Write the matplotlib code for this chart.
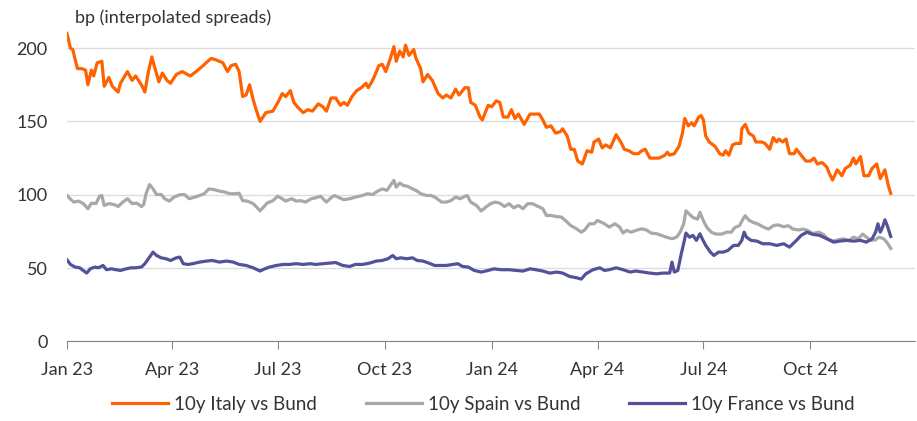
import numpy as np
import pandas as pd
import matplotlib
matplotlib.use('Agg')
import matplotlib.pyplot as plt

plt.rcParams['font.family'] = ['Lato', 'DejaVu Sans']

# days after 1 Jan 2023, spread in bp
italy_days = [0, 3, 5, 9, 13, 16, 18, 21, 23, 26, 30, 32, 36, 39, 44, 46, 52, 56, 59, 64, 67, 70, 73, 75, 79,
              82, 86, 89, 94, 99, 106, 111, 117, 121, 124, 128, 134, 138, 141, 145, 148, 151, 154, 157, 160,
              163, 166, 171, 177, 182, 185, 188, 192, 195, 198, 203, 207, 211, 216, 220, 223, 227, 231, 235,
              238, 241, 245, 249, 253, 257, 259, 262, 265, 268, 271, 274, 278, 281, 283, 286, 289, 291, 294,
              298, 300, 304, 306, 310, 314, 319, 323, 326, 330, 334, 337, 342, 345, 347, 351, 355, 357, 362,
              365, 369, 372, 375, 379, 382, 385, 388, 393, 398, 402, 406, 409, 412, 416, 420, 424, 426, 430,
              433, 436, 439, 443, 447, 451, 453, 457, 460, 463, 467, 472, 476, 479, 483, 487, 491, 494, 497,
              501, 505, 509, 514, 516, 518, 522, 526, 529, 531, 534, 537, 539, 543, 545, 547, 549, 552, 557,
              561, 564, 566, 569, 572, 575, 579, 580, 583, 586, 590, 592, 597, 600, 604, 607, 610, 612, 615,
              618, 621, 625, 627, 631, 635, 639, 642, 645, 649, 653, 655, 658, 662, 666, 669, 673, 676, 678,
              682, 685, 689, 692, 696, 699, 703, 706, 708]
italy_bp = [210, 200, 199, 186, 186, 185, 175, 185, 181, 190, 191, 174, 180, 174, 170, 176, 184, 178, 181, 175,
            170, 184, 194, 188, 177, 183, 178, 176, 182, 184, 181, 184, 188, 191, 193, 192, 190, 184, 188, 189,
            184, 167, 168, 175, 165, 157, 150, 156, 157, 164, 169, 167, 171, 163, 160, 156, 158, 157, 162, 160,
            157, 166, 166, 161, 163, 161, 167, 171, 173, 176, 173, 177, 182, 188, 189, 184, 193, 201, 191, 198,
            194, 202, 195, 199, 193, 186, 177, 182, 178, 169, 166, 168, 166, 172, 168, 173, 173, 163, 161, 153,
            151, 161, 160, 164, 163, 153, 153, 158, 152, 155, 148, 155, 155, 155, 151, 146, 147, 142, 143, 145,
            140, 131, 131, 123, 121, 130, 129, 136, 138, 132, 134, 132, 141, 136, 131, 130, 128, 128, 130, 131,
            125, 125, 125, 127, 129, 127, 128, 133, 142, 152, 147, 149, 147, 153, 154, 151, 140, 136, 133, 128,
            127, 130, 127, 134, 135, 135, 145, 148, 142, 140, 136, 136, 135, 131, 139, 136, 138, 136, 138, 128,
            128, 131, 127, 123, 123, 125, 121, 122, 119, 115, 110, 117, 113, 118, 120, 125, 121, 126, 113, 113,
            118, 121, 111, 117, 106, 101]

spain_days = [0, 3, 6, 10, 14, 18, 21, 25, 28, 30, 32, 36, 41, 44, 48, 52, 56, 60, 64, 66, 68, 71, 74, 77, 81,
              84, 88, 92, 97, 101, 105, 110, 114, 118, 122, 127, 131, 135, 140, 144, 148, 151, 155, 160, 163,
              166, 169, 172, 177, 181, 185, 188, 193, 197, 201, 205, 210, 214, 218, 223, 227, 230, 234, 238,
              243, 248, 254, 258, 263, 267, 271, 275, 278, 281, 283, 286, 289, 293, 297, 301, 304, 309, 313,
              317, 322, 326, 330, 334, 338, 342, 344, 347, 352, 356, 360, 364, 368, 372, 376, 380, 384, 388,
              392, 396, 400, 405, 409, 412, 416, 420, 425, 429, 433, 438, 442, 445, 449, 453, 456, 462, 466,
              471, 475, 478, 481, 485, 489, 494, 498, 502, 507, 511, 515, 520, 524, 527, 530, 532, 535, 538,
              542, 544, 547, 550, 554, 558, 563, 567, 571, 574, 578, 581, 583, 586, 590, 594, 598, 603, 607,
              611, 616, 620, 624, 629, 633, 637, 641, 646, 650, 654, 659, 663, 667, 672, 676, 680, 684, 687,
              691, 695, 698, 702, 705, 708]
spain_bp = [99.5, 97, 95, 95.7, 94, 90.5, 94.3, 94, 99, 99.5, 92.7, 94, 93.2, 92, 95, 97.3, 94, 94.3, 92, 93.4,
            100.7, 107, 104, 100.2, 100.2, 97.3, 95.7, 98.4, 100, 100.2, 97.3, 98.4, 99.5, 100.7, 104, 103.4,
            102.5, 102, 100.7, 100.7, 101, 96, 95.7, 94, 91.6, 89, 91.6, 94.3, 96, 99, 97.3, 95.7, 97.3, 95.7,
            96, 95, 97.3, 98, 99, 95, 98, 99.5, 98, 96.6, 97.3, 98.4, 99.5, 100.7, 100.2, 102.5, 104, 103,
            106.4, 109.8, 105.2, 108, 106.4, 105.7, 104, 102.5, 100.7, 99.5, 99.5, 98, 95, 95, 96, 98.4, 97.3,
            98.9, 99.5, 95, 92.7, 88.9, 91.6, 93.9, 95, 94.3, 92, 93.9, 91.1, 92.7, 90.5, 93.9, 93.9, 92, 90.5,
            85.9, 85.9, 85.2, 84.8, 82, 79, 76.8, 74.5, 76, 80.2, 80.2, 82.5, 80.2, 78, 80.2, 78, 73.9, 75.7,
            74.5, 75.7, 76.8, 76, 73.9, 73.4, 72.3, 71.1, 70, 71.1, 74.5, 80, 89, 86.8, 84.5, 83.4, 88, 82.3,
            77.7, 74.3, 73.2, 73.2, 74.5, 74.5, 77.7, 78.9, 83.4, 85.7, 82.7, 81.1, 80, 78.2, 76.6, 78.9, 79.5,
            78.2, 78.9, 76.6, 76, 76.6, 75.5, 73.6, 74.5, 73, 69.8, 68.4, 69.3, 70, 68.9, 71.1, 70, 73.2, 71.1,
            68.9, 69.3, 71.1, 70, 67.2, 63.4]

france_days = [0, 3, 7, 11, 14, 17, 20, 24, 27, 31, 34, 38, 42, 46, 51, 55, 59, 64, 67, 71, 74, 77, 81, 85, 89,
               94, 97, 100, 104, 108, 114, 120, 125, 131, 137, 143, 148, 154, 160, 166, 170, 174, 180, 186, 191,
               197, 203, 209, 214, 220, 226, 231, 237, 243, 248, 254, 260, 266, 271, 276, 280, 283, 287, 292,
               297, 301, 306, 311, 316, 320, 326, 332, 336, 340, 345, 350, 356, 362, 367, 373, 380, 386, 392,
               398, 403, 409, 415, 421, 426, 432, 438, 442, 446, 452, 458, 462, 466, 472, 478, 484, 489, 495,
               501, 507, 512, 518, 520, 522, 525, 528, 530, 532, 535, 538, 541, 544, 546, 549, 553, 556, 560,
               564, 568, 573, 577, 580, 582, 584, 588, 593, 598, 604, 610, 616, 621, 627, 631, 636, 641, 647,
               653, 659, 664, 670, 676, 682, 687, 692, 695, 697, 699, 701, 703, 705, 708]
france_bp = [55.7, 52.5, 50.7, 50.2, 48.4, 46.6, 49.5, 50.7, 50.2, 51.8, 48.9, 49.5, 48.9, 48.4, 49.5, 50.2,
             50.2, 50.7, 53, 57.5, 60.9, 58.6, 57, 56.4, 55.2, 57, 57.5, 53, 52.5, 53, 54.1, 54.8, 55.2, 54.1,
             54.8, 54.1, 52.5, 51.8, 50.2, 48, 49.5, 50.7, 51.8, 52.5, 52.5, 53, 52.5, 53, 52.5, 53, 53.4, 53.8,
             51.8, 51.1, 52.5, 52.5, 53.4, 54.8, 55.2, 56.4, 58.6, 56.4, 57, 56.4, 57, 55.2, 54.8, 53.4, 51.8,
             51.8, 51.8, 52.5, 53, 51.1, 50.7, 48.4, 47.3, 48.4, 49.5, 48.9, 48.9, 48.4, 48, 49.5, 48.9, 48,
             46.6, 47.3, 46.6, 44.3, 43.4, 42.5, 46.1, 48.9, 50.2, 48.4, 48.9, 50.2, 48.9, 47.3, 48, 47.3, 46.6,
             46.1, 46.6, 46.6, 54.1, 47.3, 48.4, 59.8, 66.6, 73.9, 71.1, 72.3, 68.9, 73.4, 70, 65.5, 60.9, 58.6,
             60.9, 60.9, 62, 65.5, 65.5, 68.9, 74.5, 71.1, 68.9, 68.4, 66.6, 66.6, 65.5, 66.6, 64.3, 68.9, 72.3,
             74.5, 73, 72.3, 70, 67.7, 68.4, 68.9, 68.4, 68.9, 67.7, 70, 74.5, 80.2, 74.5, 77.9, 82.9, 79, 71.6]

series = [
    ('10y Italy vs Bund', italy_days, italy_bp, '#FF6200'),
    ('10y Spain vs Bund', spain_days, spain_bp, '#A8A8A8'),
    ('10y France vs Bund', france_days, france_bp, '#525199'),
]

start = pd.Timestamp('2023-01-01')
tick_dates = pd.date_range('2023-01-01', '2024-10-01', freq='QS')
tick_labels = ['Jan 23', 'Apr 23', 'Jul 23', 'Oct 23', 'Jan 24', 'Apr 24', 'Jul 24', 'Oct 24']

txt = '#333333'
fig = plt.figure(figsize=(9.17, 4.21), dpi=100)
ax = fig.add_axes([0.073, 0.189, 0.925, 0.749])

for name, days, vals, col in series:
    dates = start + pd.to_timedelta(np.array(days), unit='D')
    ax.plot(dates, vals, color=col, lw=2.3, label=name, solid_joinstyle='round')

ax.set_ylim(0, 215)
ax.set_xlim(start, pd.Timestamp('2024-12-30'))
ax.set_yticks([0, 50, 100, 150, 200])
ax.grid(axis='y', color='#DDDDDD', lw=1)
ax.set_axisbelow(True)
ax.set_xticks(tick_dates)
ax.set_xticklabels(tick_labels)
ax.tick_params(axis='y', length=0, pad=14, labelsize=13, labelcolor=txt)
ax.tick_params(axis='x', length=6, color='#888888', pad=9, labelsize=13, labelcolor=txt)
for s in ['top', 'right', 'left']:
    ax.spines[s].set_visible(False)
ax.spines['bottom'].set_color('#888888')

fig.text(0.082, 0.958, 'bp (interpolated spreads)', fontsize=13, color=txt, va='center')

fig.legend(loc='center', bbox_to_anchor=(0.527, 0.04), ncol=3, frameon=False, fontsize=13.5,
           handlelength=3.0, handletextpad=0.3, columnspacing=2.6, labelcolor=txt)

fig.savefig('out.png', dpi=100)
